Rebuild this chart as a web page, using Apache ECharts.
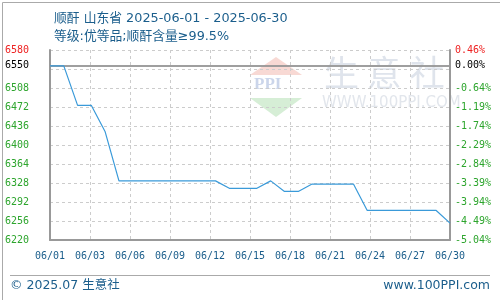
<!DOCTYPE html>
<html>
<head>
<meta charset="utf-8">
<script src="https://cdn.jsdelivr.net/npm/echarts@6/dist/echarts.min.js"></script>
<style>
html,body{margin:0;padding:0;background:#fff;}
#c{width:500px;height:300px;box-sizing:border-box;}
</style>
</head>
<body>
<div id="c"></div>
<script>
// ---- data ----
var dates = ['06/01','06/02','06/03','06/04','06/05','06/06','06/07','06/08','06/09','06/10',
             '06/11','06/12','06/13','06/14','06/15','06/16','06/17','06/18','06/19','06/20',
             '06/21','06/22','06/23','06/24','06/25','06/26','06/27','06/28','06/29','06/30'];
var prices = [6550,6550,6475,6475,6425,6332,6332,6332,6332,6332,
              6332,6332,6332,6318,6318,6318,6332,6312,6312,6326,
              6326,6326,6326,6276,6276,6276,6276,6276,6276,6252];
var baseValue = 6550;
var yMin = 6220, yMax = 6580, yStep = 36;
var titleText = '顺酐 山东省 2025-06-01 - 2025-06-30';
var subText = '等级:优等品;顺酐含量≥99.5%';
var footLeft = '© 2025.07 生意社';
var footRight = 'www.100PPI.com';

var seriesData = prices.map(function(v, i){ return [i, v]; });
var BLUE = '#1b5e8c', GREEN = '#2da52d', RED = '#ee2222';
var mono = 'DejaVu Sans Mono';

function hidden(v){ return Math.abs(v - (yMax - yStep)) < 0.01; }
function pct(v){ return ((v - baseValue) / baseValue * 100).toFixed(2) + '%'; }
function labColor(v){ return v >= yMax - 0.01 ? RED : GREEN; }

var chart = echarts.init(document.getElementById('c'), null, {renderer:'canvas'});
chart.setOption({
  animation:false,
  backgroundColor:'#fff',
  title:{
    text:titleText, subtext:subText, left:49, top:7, itemGap:5,
    textStyle:{color:BLUE, fontSize:12.8, fontWeight:'normal', fontFamily:'DejaVu Sans, Noto Sans CJK SC'},
    subtextStyle:{color:BLUE, fontSize:12.8, fontFamily:'DejaVu Sans, Noto Sans CJK SC'}
  },
  grid:{left:50, right:50, top:50, bottom:60},
  xAxis:{
    type:'value', min:0, max:dates.length-1, interval:2.9,
    axisLine:{show:true, lineStyle:{color:'#999', width:2}},
    axisTick:{show:false},
    splitLine:{show:true, lineStyle:{color:'#ccc', type:[3,3]}},
    axisLabel:{
      color:BLUE, fontSize:10, fontFamily:mono, margin:11, showMinLabel:true, showMaxLabel:true,
      formatter:function(v){ var i = Math.floor(v + 1e-6); return dates[i] || ''; }
    }
  },
  yAxis:[{
    type:'value', min:yMin, max:yMax, interval:yStep, position:'left',
    axisLine:{show:true, lineStyle:{color:'#999', width:2}},
    axisTick:{show:false},
    splitLine:{show:true, lineStyle:{color:'#ccc', type:[3,3]}},
    axisLabel:{
      fontSize:10, fontFamily:mono, margin:21,
      color:function(v){ return labColor(Number(v)); },
      formatter:function(v){ return hidden(v) ? '' : String(v); }
    }
  },{
    type:'value', min:yMin, max:yMax, interval:yStep, position:'right',
    axisLine:{show:true, lineStyle:{color:'#999', width:2}},
    axisTick:{show:false},
    splitLine:{show:false},
    axisLabel:{
      fontSize:10, fontFamily:mono, margin:5,
      color:function(v){ return labColor(Number(v)); },
      formatter:function(v){ return hidden(v) ? '' : pct(v); }
    }
  }],
  series:[{
    type:'line', data:seriesData, showSymbol:false, symbol:'none',
    lineStyle:{color:'#3a9ad9', width:1.2},
    z:5,
    markLine:{
      silent:true, symbol:'none', animation:false,
      data:[
        {yAxis:baseValue, lineStyle:{color:'#999', width:1.5, type:'solid'},
         label:{show:true, position:'start', distance:21, formatter:String(baseValue), color:'#000', fontSize:10, fontFamily:mono}},
        {yAxis:baseValue, lineStyle:{color:'#999', width:1.5, type:'solid'},
         label:{show:true, position:'end', distance:5, formatter:'0.00%', color:'#000', fontSize:10, fontFamily:mono}}
      ]
    }
  }],
  graphic:[
    {type:'rect', left:0, top:0, shape:{width:499, height:299}, style:{fill:'none', stroke:'#aaa', lineWidth:1}, silent:true},
    {type:'line', shape:{x1:10, y1:275.5, x2:490, y2:275.5}, style:{stroke:'#aaa', lineWidth:1}},
    {type:'text', left:10, top:279, style:{text:footLeft, fill:BLUE, fontSize:12.5, fontFamily:'DejaVu Sans, Noto Sans CJK SC'}},
    {type:'text', right:10, top:279, style:{text:footRight, fill:BLUE, fontSize:12.5, fontFamily:'DejaVu Sans'}},
    // watermark logo
    {type:'group', left:250, top:57, z:-1, silent:true, children:[
      {type:'polygon', shape:{points:[[26,0],[52,18],[0,18]]}, style:{fill:'#f8d9d4'}},
      {type:'text', left:4, top:19, style:{text:'PPI', fill:'#cbd5ea', fontSize:17, fontWeight:'bold', fontFamily:'Liberation Serif'}},
      {type:'polygon', shape:{points:[[0,41],[52,41],[26,60]]}, style:{fill:'#d6eed6'}}
    ]},
    {type:'text', left:324, top:55, z:-1, silent:true, style:{text:'生 意 社', fill:'#dfe4ec', fontSize:35, fontFamily:'Noto Sans CJK SC'}},
    {type:'text', left:322, top:96, z:-1, silent:true, style:{text:'WWW.100PPI.COM', fill:'#e2e6ec', fontSize:15, fontFamily:'DejaVu Sans'}}
  ]
});
</script>
</body>
</html>
